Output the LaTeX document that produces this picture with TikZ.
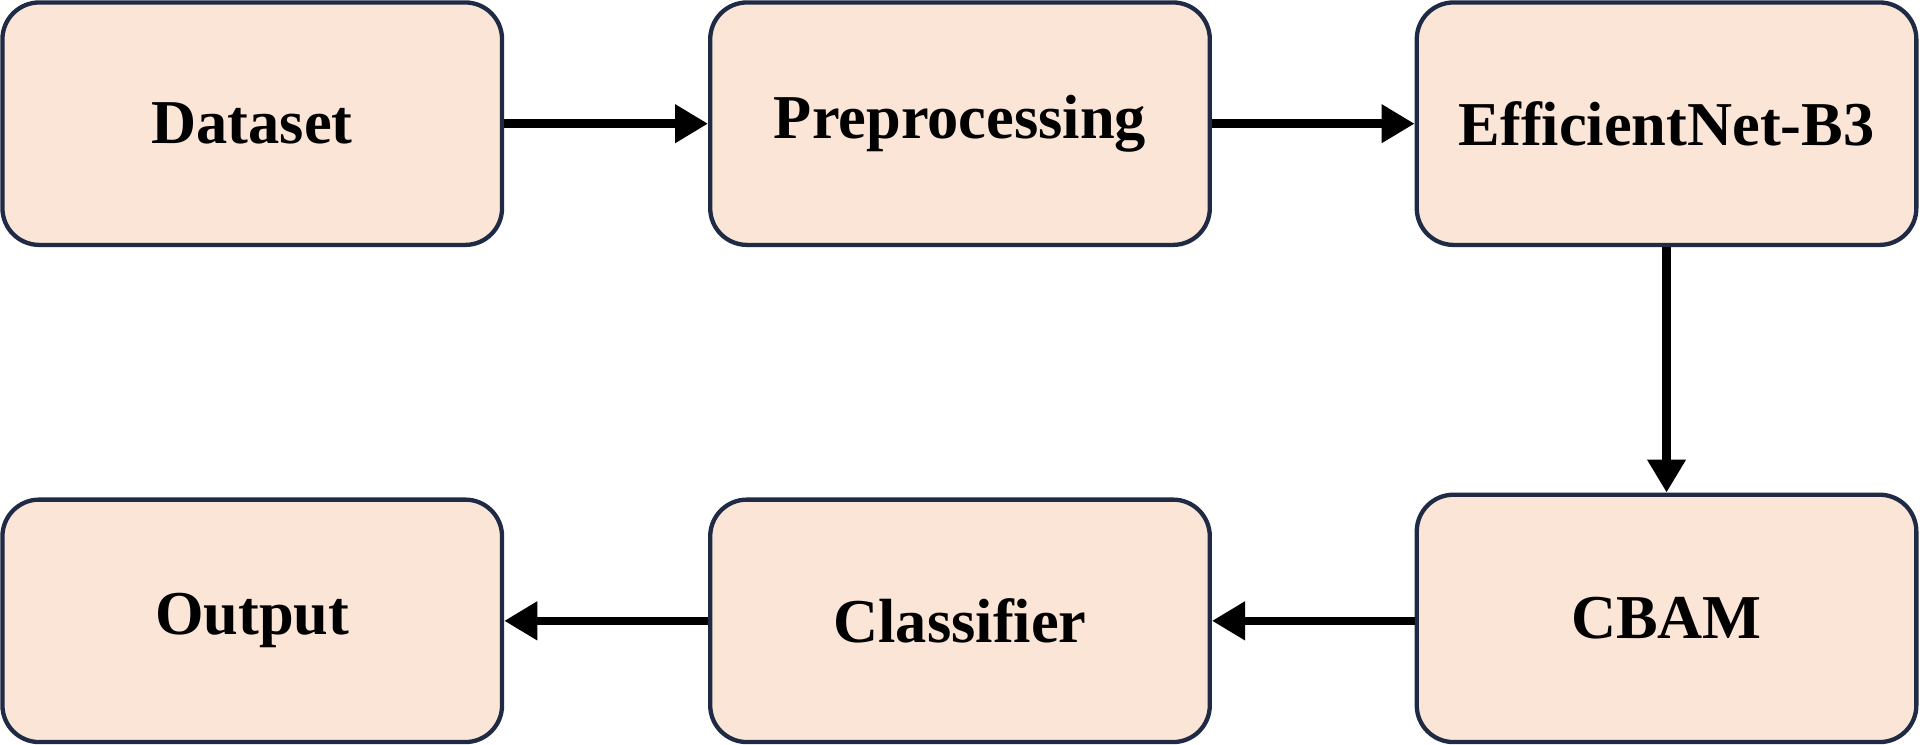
\documentclass[tikz,border=0pt]{standalone}
\usepackage{fontspec}
\setmainfont{Liberation Serif}
\usetikzlibrary{arrows.meta}
\definecolor{boxfill}{HTML}{FBE5D6}
\definecolor{boxline}{HTML}{1F2A44}
\begin{document}
\begin{tikzpicture}[
    block/.style={draw=boxline, fill=boxfill, line width=1pt, rounded corners=0.3cm,
      minimum width=4.08cm, minimum height=1.98cm, font=\fontsize{14.5}{16}\selectfont\bfseries},
    flow/.style={line width=2pt, -{Triangle[length=0.27cm,width=0.3cm]}},
  ]
  \useasboundingbox (0,0) rectangle (15.68,-6.08);

  \node[block] (data) at (2.06,-1.01) {Dataset};
  \node[block] (prep) at (7.84,-1.01) {Preprocessing};
  \node[block] (effnet) at (13.61,-1.01) {EfficientNet-B3};
  \node[block, minimum height=2.02cm] (cbam) at (13.61,-5.05) {CBAM};
  \node[block] (clf) at (7.84,-5.07) {Classifier};
  \node[block] (out) at (2.06,-5.07) {Output};

  \draw[flow] (data) -- (prep);
  \draw[flow] (prep) -- (effnet);
  \draw[flow] (effnet) -- (cbam);
  \draw[flow] (cbam.west |- clf) -- (clf);
  \draw[flow] (clf) -- (out);

\end{tikzpicture}
\end{document}
